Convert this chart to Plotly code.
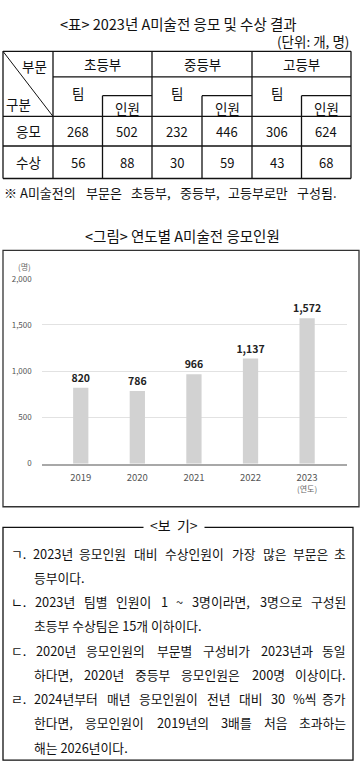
import plotly.graph_objects as go

W, H = 362, 772

# ---------------- data ----------------
table_title = "<표> 2023년 A미술전 응모 및 수상 결과"
unit_text = "(단위: 개, 명)"
corner_top = "부문"
corner_bottom = "구분"
divisions = ["초등부", "중등부", "고등부"]
sub_headers = ["팀", "인원"]
row_labels = ["응모", "수상"]
apply_teams = [268, 232, 306]
apply_people = [502, 446, 624]
award_teams = [56, 30, 43]
award_people = [88, 59, 68]
table_note = "※ A미술전의 부문은 초등부, 중등부, 고등부로만 구성됨."

chart_title = "<그림> 연도별 A미술전 응모인원"
years = ["2019", "2020", "2021", "2022", "2023"]
applicants = [820, 786, 966, 1137, 1572]
y_ticks = [0, 500, 1000, 1500, 2000]
y_unit = "(명)"
x_unit = "(연도)"

box_title = "<보  기>"
# (text, indented continuation line, justified)
box_lines = [
    ("ㄱ. 2023년 응모인원 대비 수상인원이 가장 많은 부문은 초", False, True),
    ("등부이다.", True, False),
    ("ㄴ. 2023년 팀별 인원이 1 ~ 3명이라면, 3명으로 구성된", False, True),
    ("초등부 수상팀은 15개 이하이다.", True, False),
    ("ㄷ. 2020년 응모인원의 부문별 구성비가 2023년과 동일", False, True),
    ("하다면, 2020년 중등부 응모인원은 200명 이상이다.", True, True),
    ("ㄹ. 2024년부터 매년 응모인원이 전년 대비 30 %씩 증가", False, True),
    ("한다면, 응모인원이 2019년의 3배를 처음 초과하는", True, True),
    ("해는 2026년이다.", True, False),
]

FONT = "Noto Sans CJK KR"


def X(px):
    return px / W


def Y(py):
    return 1 - py / H


shapes = []
annotations = []


def line(x0, y0, x1, y1, width=1.3, color="#111"):
    shapes.append(dict(type="line", xref="paper", yref="paper",
                       x0=X(x0), y0=Y(y0), x1=X(x1), y1=Y(y1),
                       line=dict(color=color, width=width)))


def text(t, x, y, size=13, xanchor="center", color="#111", bold=False, bg=None, pad=1):
    d = dict(text=f"<b>{t}</b>" if bold else t, x=X(x), y=Y(y), xref="paper", yref="paper",
             xanchor=xanchor, yanchor="middle", showarrow=False, borderpad=pad,
             font=dict(family=FONT, size=size, color=color))
    if bg:
        d["bgcolor"] = bg
    annotations.append(d)


def est_width(s, size):
    w = 0.0
    for ch in s:
        o = ord(ch)
        if 0xAC00 <= o <= 0xD7A3 or 0x3131 <= o <= 0x318E:
            w += 0.95
        elif ch.isdigit():
            w += 0.55
        elif ch in ".,":
            w += 0.27
        elif ch == " ":
            w += 0.22
        elif ch == "%":
            w += 0.85
        else:
            w += 0.6
    return w * size


def justified(t, x_left, x_right, y, size):
    words = t.split(" ")
    widths = [est_width(wd, size) for wd in words]
    gap = (x_right - x_left - sum(widths)) / (len(words) - 1)
    x = x_left
    for k, wd in enumerate(words):
        if k == len(words) - 1:
            text(wd, x_right, y, size=size, xanchor="right", pad=0)
        else:
            text(wd, x, y, size=size, xanchor="left", pad=0)
        x += widths[k] + gap


# ---------------- table ----------------
text(table_title, 178, 18, size=14.5)
text(unit_text, 351, 35, size=13.5, xanchor="right")

tl, tr = 3, 351
t_top, h1, subtop, hbot, r1, r2 = 46, 72, 91, 112, 142, 175
col_x = [53, 152, 252, 351]
for yy in [t_top, hbot, r1, r2]:
    line(tl, yy, tr, yy)
line(col_x[0], h1, tr, h1)
for xx in [tl] + col_x:
    line(xx, t_top, xx, r2)
line(tl, t_top, col_x[0], hbot, width=1)
for i in range(3):
    a, b = col_x[i], col_x[i + 1]
    mid = (a + b) / 2
    line(mid, subtop, mid, r2)
    line(mid, subtop, b, subtop)
    text(divisions[i], mid, 59, size=13.5)
    text(sub_headers[0], (a + mid) / 2, 88, size=13.5)
    text(sub_headers[1], (mid + b) / 2, 103, size=13.5)

text(corner_top, 49, 61, xanchor="right", size=13.5)
text(corner_bottom, 4, 99, xanchor="left", size=13.5)

rows = [(apply_teams, apply_people), (award_teams, award_people)]
row_y = [(hbot + r1) / 2, (r1 + r2) / 2]
for r, (teams, people) in enumerate(rows):
    text(row_labels[r], (tl + col_x[0]) / 2, row_y[r], size=13.5)
    for i in range(3):
        a, b = col_x[i], col_x[i + 1]
        mid = (a + b) / 2
        text(str(teams[i]), (a + mid) / 2, row_y[r], size=13)
        text(str(people[i]), (mid + b) / 2, row_y[r], size=13)

justified(table_note, 3, 338, 189, 13)

# ---------------- chart ----------------
text(chart_title, 182, 233, size=14.5)
shapes.append(dict(type="rect", xref="paper", yref="paper",
                   x0=X(3), y0=Y(508), x1=X(359), y1=Y(248),
                   line=dict(color="#333", width=1.3)))
text(y_unit, 24, 264, size=8, color="#666")

fig = go.Figure()
fig.add_trace(go.Bar(
    x=years, y=applicants, width=0.27,
    marker=dict(color="#d2d2d2", line=dict(width=0)),
    text=[f"{v:,}" for v in applicants], textposition="outside",
    constraintext="none",
    textfont=dict(family=FONT, size=10.5, color="#222", weight="bold"),
    cliponaxis=False,
))

annotations.append(dict(text=x_unit, x=len(years) - 1, xref="x", y=Y(489), yref="paper",
                        showarrow=False, xanchor="center", yanchor="middle",
                        font=dict(family=FONT, size=8, color="#666")))

# ---------------- box ----------------
bx0, bx1, by0, by1 = 3, 353, 529, 765
shapes.append(dict(type="rect", xref="paper", yref="paper",
                   x0=X(bx0), y0=Y(by1), x1=X(bx1), y1=Y(by0),
                   line=dict(color="#111", width=1.3)))
text(box_title, 174, by0 - 2, size=14, bg="white", pad=6)
line_y0, line_step = 555, 24.6
for k, (t, indent, just) in enumerate(box_lines):
    x0 = 33 if indent else 10
    yy = line_y0 + k * line_step
    if just:
        justified(t, x0, 347, yy, 12.8)
    else:
        text(t, x0, yy, size=12.8, xanchor="left", pad=0)

fig.update_layout(
    width=W, height=H, autosize=False,
    margin=dict(l=0, r=0, t=0, b=0),
    paper_bgcolor="white", plot_bgcolor="white",
    showlegend=False,
    shapes=shapes, annotations=annotations,
    font=dict(family=FONT),
    xaxis=dict(domain=[X(41.7), X(347)], range=[-0.69, 4.705], type="category",
               showgrid=False, showline=True, linecolor="#a8a8a8", linewidth=1.5,
               ticks="", ticklabelstandoff=4,
               tickfont=dict(family=FONT, size=9.5, color="#555")),
    yaxis=dict(domain=[Y(464.3), Y(276.7)], range=[0, 2000], tickvals=y_ticks,
               tickformat=",", showgrid=True, gridcolor="#e2e2e2", gridwidth=1,
               zeroline=False, showline=False, ticks="", ticklabelstandoff=9,
               tickfont=dict(family=FONT, size=8, color="#555")),
)

fig.write_html("out.html", config={"displayModeBar": False},
               post_script="document.body.style.margin='0';")
